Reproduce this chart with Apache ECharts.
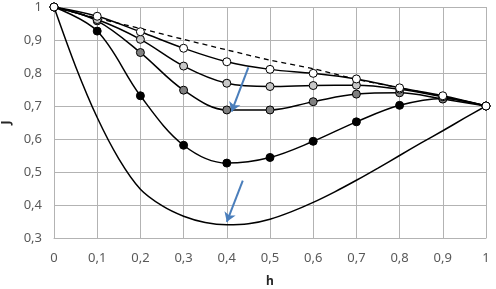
<!DOCTYPE html>
<html>
<head>
<meta charset="utf-8">
<script src="https://cdn.jsdelivr.net/npm/echarts@6/dist/echarts.min.js"></script>
<style>
  html, body { margin: 0; padding: 0; background: #fff; }
  #chart { width: 496px; height: 289px; }
</style>
</head>
<body>
<div id="chart"></div>
<script>
// h values (x axis) for the marked curves
const hSteps = [0, 0.1, 0.2, 0.3, 0.4, 0.5, 0.6, 0.7, 0.8, 0.9, 1];

// J values
const dashedJ = [1, 0.966, 0.935, 0.902, 0.87, 0.839, 0.813, 0.781, 0.755, 0.729, 0.70];
const whiteJ  = [1, 0.972, 0.925, 0.875, 0.834, 0.811, 0.799, 0.782, 0.755, 0.731, 0.70];
const lightJ  = [1, 0.962, 0.902, 0.821, 0.769, 0.759, 0.762, 0.763, 0.751, 0.728, 0.70];
const darkJ   = [1, 0.958, 0.862, 0.748, 0.688, 0.688, 0.713, 0.736, 0.740, 0.721, 0.70];
const blackJ  = [1, 0.927, 0.731, 0.581, 0.527, 0.544, 0.593, 0.652, 0.702, 0.723, 0.70];

// lowest curve has no markers
const lowH = [0, 0.05, 0.1, 0.15, 0.2, 0.25, 0.3, 0.35, 0.4, 0.45, 0.5, 0.55, 0.6, 0.65, 0.7, 0.75, 0.8, 0.85, 0.9, 0.95, 1];
const lowJ = [1, 0.82, 0.665, 0.54, 0.448, 0.398, 0.366, 0.347, 0.34, 0.343, 0.357, 0.38, 0.408, 0.44, 0.475, 0.512, 0.55, 0.588, 0.625, 0.663, 0.70];

// blue arrows (start -> end, in data units)
const arrows = [
  [[0.45, 0.817], [0.411, 0.683]],
  [[0.437, 0.474], [0.400, 0.349]]
];

const pairs = (xs, ys) => xs.map((x, i) => [x, ys[i]]);
const fmt = v => String(Math.round(v * 10) / 10).replace('.', ',');

const chart = echarts.init(document.getElementById('chart'));

function marked(values, fill) {
  return {
    type: 'line',
    data: pairs(hSteps, values),
    smooth: 0.35,
    symbol: 'circle',
    symbolSize: 8,
    showSymbol: true,
    lineStyle: { color: '#000', width: 1.5 },
    itemStyle: { color: fill, borderColor: '#000', borderWidth: 1 },
    z: 3
  };
}

chart.setOption({
  animation: false,
  textStyle: { fontFamily: 'Noto Sans' },
  grid: { left: 54, right: 10, top: 7, bottom: 51, containLabel: false, outerBoundsMode: 'none' },
  xAxis: {
    type: 'value', min: 0, max: 1, interval: 0.1,
    name: 'h', nameLocation: 'middle', nameGap: 38,
    nameTextStyle: { fontWeight: 'bold', color: '#262626', fontSize: 12 },
    axisLine: { show: true, lineStyle: { color: '#b3b3b3' } },
    axisTick: { show: false },
    splitLine: { lineStyle: { color: '#b3b3b3' } },
    axisLabel: { color: '#595959', fontSize: 13, margin: 14, formatter: fmt }
  },
  yAxis: {
    type: 'value', min: 0.3, max: 1, interval: 0.1,
    name: 'J', nameLocation: 'middle', nameGap: 41, nameRotate: 90,
    nameTextStyle: { fontWeight: 'bold', color: '#262626', fontSize: 12 },
    axisLine: { show: true, lineStyle: { color: '#b3b3b3' } },
    axisTick: { show: false },
    splitLine: { lineStyle: { color: '#b3b3b3' } },
    axisLabel: { color: '#595959', fontSize: 13, margin: 12, formatter: fmt }
  },
  series: [
    {
      type: 'line',
      data: pairs(hSteps, dashedJ),
      smooth: 0.3,
      showSymbol: false,
      lineStyle: { color: '#000', width: 1.3, type: [5, 4] },
      z: 2
    },
    {
      type: 'line',
      data: pairs(lowH, lowJ),
      smooth: 0.3,
      showSymbol: false,
      lineStyle: { color: '#000', width: 1.5 },
      z: 2
    },
    marked(blackJ, '#000'),
    marked(darkJ, '#808080'),
    marked(lightJ, '#c8c8c8'),
    marked(whiteJ, '#fff'),
    {
      type: 'lines',
      coordinateSystem: 'cartesian2d',
      data: arrows.map(a => ({ coords: a })),
      symbol: ['none', 'arrow'],
      symbolSize: 9,
      lineStyle: { color: '#4a7ebb', width: 2, opacity: 1 },
      z: 5
    }
  ]
});
</script>
</body>
</html>
